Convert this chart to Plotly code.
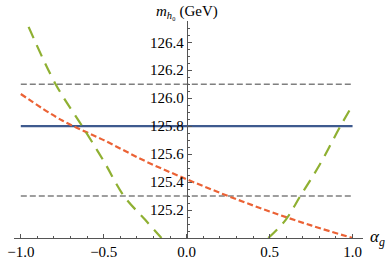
import plotly.graph_objects as go

# ---- data ----
alpha_orange = [-1.0, -0.75, -0.5, -0.25, 0.0, 0.25, 0.5, 0.75, 1.0]
mh_orange = [126.03, 125.84, 125.70, 125.55, 125.42, 125.30, 125.19, 125.09, 125.00]

alpha_green = [-0.953, -0.79, -0.63, -0.50, -0.378, -0.25, -0.152, None,
               0.492, 0.597, 0.685, 0.80, 0.927, 0.99]
mh_green = [126.51, 126.10, 125.80, 125.55, 125.30, 125.13, 125.00, None,
            125.00, 125.13, 125.30, 125.52, 125.80, 125.93]

ref_x = [-1.0, 1.0]
mh_central = 125.8
mh_band = [126.1, 125.3]

x_ticks = [-1.0, -0.5, 0.0, 0.5, 1.0]
y_ticks = [125.2, 125.4, 125.6, 125.8, 126.0, 126.2, 126.4]

# ---- figure ----
FONT = "Liberation Serif"
xr = [-1.041, 1.063]
yr = [125.0, 126.552]
ypos = (0 - xr[0]) / (xr[1] - xr[0])

fig = go.Figure()
for yv in mh_band:
    fig.add_trace(go.Scatter(x=ref_x, y=[yv, yv], mode="lines",
                             line=dict(color="#7f7f7f", width=1.5, dash="6px,3px"),
                             hoverinfo="skip", showlegend=False))
fig.add_trace(go.Scatter(x=ref_x, y=[mh_central, mh_central], mode="lines",
                         line=dict(color="#3e5a8e", width=2.4),
                         showlegend=False))
fig.add_trace(go.Scatter(x=alpha_orange, y=mh_orange, mode="lines",
                         line=dict(color="#eb6235", width=2.2, dash="6px,3px", shape="spline"),
                         showlegend=False))
fig.add_trace(go.Scatter(x=alpha_green, y=mh_green, mode="lines",
                         line=dict(color="#8fb032", width=2.2, dash="12px,8px", shape="spline"),
                         connectgaps=False, showlegend=False))

fig.update_layout(
    width=388, height=267,
    margin=dict(l=7, r=25, t=21, b=21),
    paper_bgcolor="white", plot_bgcolor="white",
    font=dict(family=FONT, size=15, color="black"),
    xaxis=dict(range=xr, showgrid=False, zeroline=False, showline=True,
               linecolor="#555555", linewidth=1, ticks="inside", ticklen=4,
               tickcolor="#555555", tickvals=x_ticks, tickformat=".1f",
               tickfont=dict(family=FONT, size=15), ticklabeloverflow="allow",
               minor=dict(dtick=0.1, tick0=0, ticks="inside", ticklen=2, tickcolor="#555555"),
               anchor="y", fixedrange=True),
    yaxis=dict(range=yr, showgrid=False, zeroline=False, showline=True,
               linecolor="#555555", linewidth=1, ticks="inside", ticklen=4,
               tickcolor="#555555", tickvals=y_ticks, tickformat=".1f",
               tickfont=dict(family=FONT, size=15), ticklabeloverflow="allow",
               minor=dict(dtick=0.05, tick0=125, ticks="inside", ticklen=2, tickcolor="#555555"),
               anchor="free", position=ypos, side="left", fixedrange=True),
    annotations=[
        dict(text="<i>m</i><sub><i>h</i>\u2080</sub> (GeV)", xref="paper", yref="paper",
             x=ypos, y=1 + 9 / 225, xanchor="center", yanchor="middle",
             showarrow=False, font=dict(family=FONT, size=15)),
        dict(text="<i>\u03b1</i><sub><i>g</i></sub>", xref="paper", yref="paper",
             x=(387 - 7) / 356, y=0.0, xanchor="right", yanchor="middle",
             showarrow=False, font=dict(family=FONT, size=17)),
    ],
)

fig.write_html("out.html", config={"displayModeBar": False},
               post_script="document.body.style.margin='0';document.body.style.padding='0';")
